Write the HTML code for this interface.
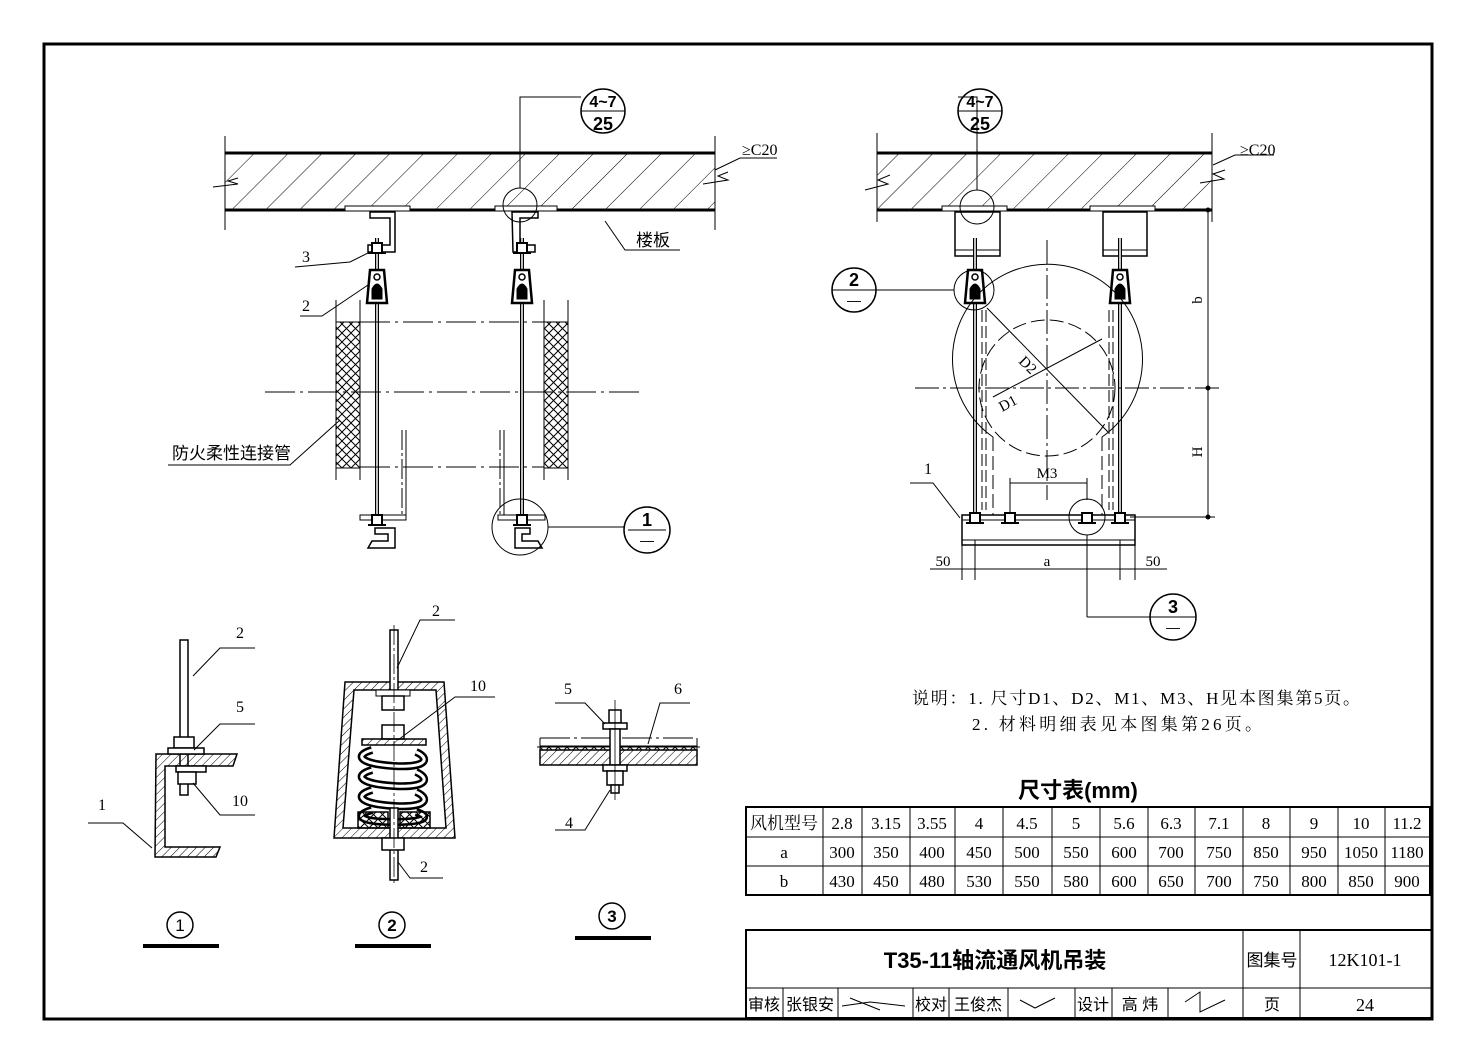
<!DOCTYPE html>
<html><head><meta charset="utf-8"><style>
html,body{margin:0;padding:0;background:#fff;}
svg{display:block;}
text{font-family:"Liberation Sans","Noto Sans CJK SC",sans-serif;fill:#000;}
.s{font-family:"Liberation Serif","Noto Serif CJK SC","Noto Sans CJK SC",serif;}
</style></head><body>
<svg width="1476" height="1062" viewBox="0 0 1476 1062" xmlns="http://www.w3.org/2000/svg">
<defs>
<pattern id="hatch" patternUnits="userSpaceOnUse" width="24" height="24" patternTransform="rotate(45)">
<line x1="0" y1="0" x2="0" y2="24" stroke="#000" stroke-width="1"/>
</pattern>
<pattern id="hs" patternUnits="userSpaceOnUse" width="6" height="6" patternTransform="rotate(45)">
<line x1="0" y1="0" x2="0" y2="6" stroke="#000" stroke-width="1"/>
</pattern>
<pattern id="xh" patternUnits="userSpaceOnUse" width="9" height="9">
<path d="M0 0L9 9M9 0L0 9" stroke="#000" stroke-width="1"/>
</pattern>
<g id="hanger">
<path d="M-7 -33 L7 -33 L10 0 L-10 0 Z" fill="#fff" stroke="#000" stroke-width="2.5"/>
<path d="M-5 -14 Q0 -24 5 -14 L5 -4 L-5 -4 Z" fill="#000"/>
<circle cx="0" cy="-26" r="3" fill="none" stroke="#000" stroke-width="1.5"/>
</g>
<g id="nut">
<rect x="-5" y="-5" width="10" height="10" fill="#fff" stroke="#000" stroke-width="2"/>
<line x1="-9" y1="5" x2="9" y2="5" stroke="#000" stroke-width="2"/>
</g>
<path id="coil" d="M372 752 C355 760 430 766 414 776 C400 784 360 786 374 796 C390 806 432 806 414 816 C400 824 360 826 376 834" fill="none"/>
</defs>
<rect x="0" y="0" width="1476" height="1062" fill="#fff"/>
<rect x="44" y="44" width="1388" height="975" fill="none" stroke="#000" stroke-width="3"/>

<!-- LEFT VIEW slab -->
<g stroke="#000" fill="none">
<rect x="225" y="153" width="490" height="57" fill="url(#hatch)" stroke="none"/>
<line x1="225" y1="153" x2="715" y2="153" stroke-width="3"/>
<line x1="225" y1="210" x2="715" y2="210" stroke-width="3"/>
<line x1="225" y1="136" x2="225" y2="230"/>
<line x1="715" y1="136" x2="715" y2="230"/>
<path d="M213 187 L238 184 L228 181 L238 178"/>
<path d="M703 184 L728 180 L718 176 L728 172" />
<rect x="345" y="206" width="65" height="5" fill="#fff"/>
<rect x="495" y="206" width="62" height="5" fill="#fff"/>
<path d="M370 212 L395 212 L395 252 L368 252 L368 245 L390 245 L390 218 L370 218 Z" fill="#fff" stroke-width="1.5"/>
<path d="M512 212 L538 212 L538 218 L520 218 L520 245 L535 245 L535 252 L513 252 Z" fill="#fff" stroke-width="1.5"/>
<line x1="377" y1="238" x2="377" y2="525" stroke-width="4"/>
<line x1="377" y1="238" x2="377" y2="525" stroke="#fff" stroke-width="1.5"/>
<line x1="522" y1="238" x2="522" y2="525" stroke-width="4"/>
<line x1="522" y1="238" x2="522" y2="525" stroke="#fff" stroke-width="1.5"/>
<use href="#hanger" x="377" y="303"/>
<use href="#hanger" x="522" y="303"/>
<rect x="336" y="322" width="24" height="146" fill="url(#xh)"/>
<rect x="544" y="322" width="24" height="146" fill="url(#xh)"/>
<line x1="336" y1="300" x2="336" y2="480"/><line x1="360" y1="300" x2="360" y2="480"/>
<line x1="544" y1="300" x2="544" y2="480"/><line x1="568" y1="300" x2="568" y2="480"/>
<line x1="360" y1="322" x2="544" y2="322" stroke-dasharray="30 5 3 5"/>
<line x1="360" y1="467" x2="544" y2="467" stroke-dasharray="30 5 3 5"/>
<line x1="265" y1="392" x2="640" y2="392" stroke-dasharray="30 5 3 5"/>
<line x1="402" y1="430" x2="402" y2="520" stroke-dasharray="20 3 3 3"/><line x1="406" y1="430" x2="406" y2="520"/>
<line x1="500" y1="430" x2="500" y2="520" stroke-dasharray="20 3 3 3"/><line x1="504" y1="430" x2="504" y2="520"/>
<path d="M360 515 L406 515 L406 520 L360 520 Z" fill="#fff"/>
<path d="M375 528 L395 528 L395 548 L368 548 L372 541 L388 541 L388 534 L375 534 Z" fill="#fff" stroke-width="1.5"/>
<path d="M498 515 L545 515 L545 520 L498 520 Z" fill="#fff"/>
<path d="M515 528 L530 528 L530 534 L522 534 L522 541 L538 541 L542 548 L515 548 Z" fill="#fff" stroke-width="1.5"/>
<use href="#nut" x="377" y="520"/><use href="#nut" x="522" y="520"/>
<use href="#nut" x="377" y="248"/><use href="#nut" x="522" y="248"/>
<circle cx="603" cy="111" r="22" fill="#fff" stroke-width="1.5"/>
<line x1="581" y1="111" x2="625" y2="111"/>
<path d="M581 97 L520 97 L520 188"/>
<circle cx="520" cy="205" r="17"/>
<circle cx="520" cy="527" r="28"/>
<line x1="548" y1="527" x2="624" y2="527"/>
<circle cx="647" cy="530" r="23" stroke-width="1.5"/>
<line x1="628" y1="530" x2="666" y2="530"/>
<path d="M605 221 L625 250 L680 250"/>
<path d="M715 170 L740 158 L777 158"/>
<path d="M295 267 L350 262 L370 252"/>
<path d="M300 316 L322 316 L368 285"/>
<path d="M168 465 L290 465 L340 420"/>
</g>
<text x="603" y="107" font-size="16" text-anchor="middle" font-weight="bold">4~7</text>
<text x="603" y="130" font-size="18" text-anchor="middle" font-weight="bold">25</text>
<text x="647" y="526" font-size="18" text-anchor="middle" font-weight="bold">1</text>
<text x="647" y="545" font-size="14" text-anchor="middle">—</text>
<text x="636" y="246" font-size="17">楼板</text>
<text x="742" y="155" font-size="16" class="s">≥C20</text>
<text x="302" y="262" font-size="16" class="s">3</text>
<text x="302" y="311" font-size="16" class="s">2</text>
<text x="172" y="459" font-size="17">防火柔性连接管</text>

<!-- RIGHT VIEW -->
<g stroke="#000" fill="none">
<rect x="877" y="153" width="335" height="57" fill="url(#hatch)" stroke="none"/>
<line x1="877" y1="153" x2="1212" y2="153" stroke-width="3"/>
<line x1="877" y1="210" x2="1212" y2="210" stroke-width="3"/>
<line x1="877" y1="133" x2="877" y2="222"/>
<line x1="1212" y1="133" x2="1212" y2="222"/>
<path d="M865 190 L888 184 L878 180 L890 175"/>
<path d="M1200 183 L1224 179 L1213 174 L1225 170"/>
<rect x="942" y="206" width="65" height="5" fill="#fff"/>
<rect x="1090" y="206" width="65" height="5" fill="#fff"/>
<rect x="955" y="212" width="45" height="44" fill="#fff" stroke-width="1.5"/>
<line x1="955" y1="250" x2="1000" y2="250"/>
<rect x="1103" y="212" width="44" height="44" fill="#fff" stroke-width="1.5"/>
<line x1="1103" y1="250" x2="1147" y2="250"/>
<line x1="975" y1="238" x2="975" y2="528" stroke-width="4"/>
<line x1="975" y1="238" x2="975" y2="528" stroke="#fff" stroke-width="1.5"/>
<line x1="1120" y1="238" x2="1120" y2="528" stroke-width="4"/>
<line x1="1120" y1="238" x2="1120" y2="528" stroke="#fff" stroke-width="1.5"/>
<use href="#hanger" x="975" y="303"/>
<use href="#hanger" x="1120" y="303"/>
<line x1="982" y1="310" x2="982" y2="510" stroke-dasharray="12 4"/><line x1="986" y1="310" x2="986" y2="510" stroke-dasharray="12 4"/>
<line x1="1109" y1="310" x2="1109" y2="510" stroke-dasharray="12 4"/><line x1="1113" y1="310" x2="1113" y2="510" stroke-dasharray="12 4"/>
<path d="M993 437 A95 95 0 1 1 1102 437" />
<circle cx="1047" cy="388" r="68" stroke-dasharray="14 5"/>
<line x1="993" y1="437" x2="993" y2="515" stroke-dasharray="14 5"/>
<line x1="1102" y1="437" x2="1102" y2="515" stroke-dasharray="14 5"/>
<line x1="1047" y1="240" x2="1047" y2="500" stroke-dasharray="24 4 3 4"/>
<line x1="915" y1="388" x2="1220" y2="388" stroke-dasharray="24 4 3 4"/>
<line x1="987" y1="308" x2="1108" y2="432"/>
<line x1="993" y1="397" x2="1102" y2="339"/>
<rect x="962" y="515" width="173" height="30" fill="#fff" stroke-width="1.5"/>
<line x1="962" y1="520" x2="1135" y2="520"/><line x1="962" y1="540" x2="1135" y2="540"/>
<use href="#nut" x="975" y="518"/><use href="#nut" x="1120" y="518"/>
<use href="#nut" x="1010" y="518"/><use href="#nut" x="1087" y="518"/>
<circle cx="1087" cy="517" r="18"/>
<line x1="1087" y1="535" x2="1087" y2="617"/><line x1="1087" y1="617" x2="1150" y2="617"/>
<circle cx="1173" cy="617" r="23" stroke-width="1.5"/><line x1="1150" y1="617" x2="1196" y2="617"/>
<circle cx="974" cy="290" r="20"/>
<line x1="954" y1="290" x2="876" y2="290"/>
<circle cx="854" cy="290" r="22" stroke-width="1.5"/><line x1="832" y1="290" x2="876" y2="290"/>
<circle cx="980" cy="111" r="22" fill="#fff" stroke-width="1.5"/><line x1="958" y1="111" x2="1002" y2="111"/>
<path d="M958 97 L977 97 L977 190"/>
<circle cx="977" cy="207" r="17"/>
<path d="M1213 165 L1235 155 L1274 155"/>
<line x1="1208" y1="210" x2="1208" y2="517"/>
<line x1="1130" y1="517" x2="1215" y2="517"/>
<circle cx="1208" cy="210" r="2" fill="#000"/><circle cx="1208" cy="388" r="2" fill="#000"/><circle cx="1208" cy="517" r="2" fill="#000"/>
<line x1="930" y1="569" x2="1167" y2="569"/>
<line x1="962" y1="545" x2="962" y2="580"/><line x1="975" y1="540" x2="975" y2="580"/>
<line x1="1120" y1="540" x2="1120" y2="580"/><line x1="1135" y1="545" x2="1135" y2="580"/>
<line x1="1010" y1="483" x2="1087" y2="483"/>
<line x1="1010" y1="478" x2="1010" y2="512"/><line x1="1087" y1="478" x2="1087" y2="500"/>
<path d="M910 483 L933 483 L960 518"/>
</g>
<text x="980" y="107" font-size="16" text-anchor="middle" font-weight="bold">4~7</text>
<text x="980" y="130" font-size="18" text-anchor="middle" font-weight="bold">25</text>
<text x="854" y="286" font-size="18" text-anchor="middle" font-weight="bold">2</text>
<text x="854" y="305" font-size="14" text-anchor="middle">—</text>
<text x="1173" y="613" font-size="18" text-anchor="middle" font-weight="bold">3</text>
<text x="1173" y="632" font-size="14" text-anchor="middle">—</text>
<text x="1240" y="155" font-size="16" class="s">≥C20</text>
<text x="1047" y="478" font-size="15" text-anchor="middle" class="s">M3</text>
<text x="1047" y="566" font-size="15" text-anchor="middle" class="s">a</text>
<text x="943" y="566" font-size="15" text-anchor="middle" class="s">50</text>
<text x="1153" y="566" font-size="15" text-anchor="middle" class="s">50</text>
<text x="924" y="474" font-size="16" class="s">1</text>
<text transform="translate(1202,300) rotate(-90)" font-size="15" text-anchor="middle" class="s">b</text>
<text transform="translate(1202,452) rotate(-90)" font-size="15" text-anchor="middle" class="s">H</text>
<text transform="translate(1018,362) rotate(45)" font-size="15" class="s">D2</text>
<text transform="translate(1002,412) rotate(-28)" font-size="15" class="s">D1</text>

<!-- DETAIL 1 -->
<g stroke="#000" fill="none">
<rect x="180" y="640" width="8" height="155" fill="#fff" stroke-width="1.5"/>
<path d="M156 754 L237 754 L233 766 L165 766 L165 847 L220 847 L216 857 L155 857 Z" fill="url(#hs)" stroke-width="1.5"/>
<rect x="174" y="737" width="20" height="11" fill="#fff" stroke-width="1.5"/>
<rect x="168" y="748" width="36" height="6" fill="#fff" stroke-width="1.5"/>
<rect x="176" y="766" width="30" height="6" fill="#fff" stroke-width="1.5"/>
<rect x="178" y="772" width="18" height="12" fill="#fff" stroke-width="1.5"/>
<path d="M193 676 L220 648 L255 648"/>
<path d="M194 750 L220 724 L255 724"/>
<path d="M193 783 L220 815 L255 815"/>
<path d="M88 823 L123 823 L152 848"/>
</g>
<text x="236" y="638" font-size="16" class="s">2</text>
<text x="236" y="712" font-size="16" class="s">5</text>
<text x="232" y="806" font-size="16" class="s">10</text>
<text x="98" y="810" font-size="16" class="s">1</text>

<!-- DETAIL 2 -->
<g stroke="#000" fill="none">
<path d="M345 682 L444 682 L455 838 L334 838 Z" fill="url(#hs)" stroke-width="1.5"/>
<path d="M354 690 L436 690 L446 828 L343 828 Z" fill="#fff" stroke-width="1.5"/>
<rect x="390" y="630" width="8" height="60" fill="#fff" stroke-width="1.5"/>
<rect x="376" y="690" width="34" height="6" fill="#fff"/>
<rect x="382" y="696" width="22" height="14" fill="#fff" stroke-width="1.5"/>
<rect x="382" y="725" width="22" height="14" fill="#fff" stroke-width="1.5"/>
<rect x="362" y="739" width="64" height="6" fill="url(#hs)" stroke-width="1.5"/>
<path d="M372 750 C352 756 362 764 394 766 C428 768 430 758 416 752" stroke-width="8"/>
<path d="M372 750 C352 756 362 764 394 766 C428 768 430 758 416 752" stroke="#fff" stroke-width="3"/>
<path d="M372 770 C352 776 362 784 394 786 C428 788 430 778 416 772" stroke-width="8"/>
<path d="M372 770 C352 776 362 784 394 786 C428 788 430 778 416 772" stroke="#fff" stroke-width="3"/>
<path d="M372 790 C352 796 362 804 394 806 C428 808 430 798 416 792" stroke-width="8"/>
<path d="M372 790 C352 796 362 804 394 806 C428 808 430 798 416 792" stroke="#fff" stroke-width="3"/>
<path d="M372 810 C352 816 362 822 394 822 C428 822 430 816 416 812" stroke-width="8"/>
<path d="M372 810 C352 816 362 822 394 822 C428 822 430 816 416 812" stroke="#fff" stroke-width="3"/>
<rect x="358" y="812" width="30" height="16" fill="url(#xh)" stroke-width="1.5"/>
<rect x="400" y="812" width="30" height="16" fill="url(#xh)" stroke-width="1.5"/>
<rect x="390" y="808" width="8" height="72" fill="#fff" stroke-width="1.5"/>
<rect x="382" y="838" width="22" height="12" fill="#fff" stroke-width="1.5"/>
<line x1="394" y1="625" x2="394" y2="885" stroke-dasharray="20 3 3 3" stroke-width="0.8"/>
<path d="M397 668 L420 620 L455 620"/>
<path d="M398 740 L455 697 L495 697"/>
<path d="M398 862 L410 878 L443 878"/>
</g>
<text x="432" y="616" font-size="16" class="s">2</text>
<text x="470" y="691" font-size="16" class="s">10</text>
<text x="420" y="872" font-size="16" class="s">2</text>

<!-- DETAIL 3 -->
<g stroke="#000" fill="none">
<line x1="540" y1="738" x2="697" y2="738" stroke-dasharray="30 4 3 4"/>
<line x1="540" y1="738" x2="540" y2="765"/><line x1="697" y1="738" x2="697" y2="765"/>
<rect x="540" y="746" width="157" height="4" fill="url(#xh)"/>
<line x1="537" y1="747" x2="700" y2="747"/>
<rect x="540" y="750" width="157" height="15" fill="url(#hs)" stroke-width="1.5"/>
<rect x="609" y="710" width="12" height="13" fill="#fff" stroke-width="1.5"/>
<rect x="603" y="723" width="24" height="6" fill="#fff" stroke-width="1.5"/>
<rect x="610" y="729" width="10" height="36" fill="#fff" stroke-width="1.5"/>
<rect x="603" y="765" width="24" height="6" fill="#fff" stroke-width="1.5"/>
<rect x="607" y="771" width="16" height="14" fill="#fff" stroke-width="1.5"/>
<rect x="611" y="785" width="8" height="8" fill="#fff" stroke-width="1.5"/>
<line x1="615" y1="700" x2="615" y2="800" stroke-width="0.8"/>
<path d="M555 703 L585 703 L605 724"/>
<path d="M690 703 L660 703 L648 744"/>
<path d="M555 830 L585 830 L610 790"/>
</g>
<text x="564" y="694" font-size="16" class="s">5</text>
<text x="674" y="694" font-size="16" class="s">6</text>
<text x="565" y="828" font-size="16" class="s">4</text>

<g stroke="#000" fill="none" stroke-width="1.5">
<circle cx="180" cy="925" r="13"/><circle cx="392" cy="925" r="13"/><circle cx="612" cy="916" r="13"/>
</g>
<rect x="143" y="944" width="76" height="4" fill="#000"/>
<rect x="355" y="944" width="76" height="4" fill="#000"/>
<rect x="575" y="936" width="76" height="4" fill="#000"/>
<text x="180" y="931" font-size="17" text-anchor="middle">1</text>
<text x="392" y="931" font-size="17" text-anchor="middle" font-weight="bold">2</text>
<text x="612" y="922" font-size="17" text-anchor="middle" font-weight="bold">3</text>

<text x="912" y="704" font-size="17" class="s" textLength="448">说明：1. 尺寸D1、D2、M1、M3、H见本图集第5页。</text>
<text x="972" y="730" font-size="17" class="s" textLength="290">2. 材料明细表见本图集第26页。</text>

<text x="1078" y="798" font-size="22" text-anchor="middle" font-weight="bold">尺寸表(mm)</text>
<g stroke="#000" fill="none">
<rect x="746" y="807" width="684" height="88" stroke-width="2"/>
<line x1="746" y1="837" x2="1430" y2="837"/>
<line x1="746" y1="866" x2="1430" y2="866"/>
<line x1="823" y1="807" x2="823" y2="895"/><line x1="862" y1="807" x2="862" y2="895"/>
<line x1="910" y1="807" x2="910" y2="895"/><line x1="955" y1="807" x2="955" y2="895"/>
<line x1="1003" y1="807" x2="1003" y2="895"/><line x1="1052" y1="807" x2="1052" y2="895"/>
<line x1="1100" y1="807" x2="1100" y2="895"/><line x1="1148" y1="807" x2="1148" y2="895"/>
<line x1="1195" y1="807" x2="1195" y2="895"/><line x1="1243" y1="807" x2="1243" y2="895"/>
<line x1="1290" y1="807" x2="1290" y2="895"/><line x1="1338" y1="807" x2="1338" y2="895"/>
<line x1="1385" y1="807" x2="1385" y2="895"/>
</g>
<g font-size="17" text-anchor="middle" class="s">
<text x="784" y="829" class="s">风机型号</text>
<text x="842" y="829" class="s">2.8</text><text x="886" y="829" class="s">3.15</text><text x="932" y="829" class="s">3.55</text>
<text x="979" y="829" class="s">4</text><text x="1027" y="829" class="s">4.5</text><text x="1076" y="829" class="s">5</text>
<text x="1124" y="829" class="s">5.6</text><text x="1171" y="829" class="s">6.3</text><text x="1219" y="829" class="s">7.1</text>
<text x="1266" y="829" class="s">8</text><text x="1314" y="829" class="s">9</text><text x="1361" y="829" class="s">10</text><text x="1407" y="829" class="s">11.2</text>
<text x="784" y="858" class="s">a</text>
<text x="842" y="858" class="s">300</text><text x="886" y="858" class="s">350</text><text x="932" y="858" class="s">400</text>
<text x="979" y="858" class="s">450</text><text x="1027" y="858" class="s">500</text><text x="1076" y="858" class="s">550</text>
<text x="1124" y="858" class="s">600</text><text x="1171" y="858" class="s">700</text><text x="1219" y="858" class="s">750</text>
<text x="1266" y="858" class="s">850</text><text x="1314" y="858" class="s">950</text><text x="1361" y="858" class="s">1050</text><text x="1407" y="858" class="s">1180</text>
<text x="784" y="887" class="s">b</text>
<text x="842" y="887" class="s">430</text><text x="886" y="887" class="s">450</text><text x="932" y="887" class="s">480</text>
<text x="979" y="887" class="s">530</text><text x="1027" y="887" class="s">550</text><text x="1076" y="887" class="s">580</text>
<text x="1124" y="887" class="s">600</text><text x="1171" y="887" class="s">650</text><text x="1219" y="887" class="s">700</text>
<text x="1266" y="887" class="s">750</text><text x="1314" y="887" class="s">800</text><text x="1361" y="887" class="s">850</text><text x="1407" y="887" class="s">900</text>
</g>

<g stroke="#000" fill="none">
<rect x="746" y="930" width="686" height="88" stroke-width="2"/>
<line x1="746" y1="988" x2="1432" y2="988"/>
<line x1="1243" y1="930" x2="1243" y2="1018"/>
<line x1="1300" y1="930" x2="1300" y2="1018"/>
<line x1="783" y1="988" x2="783" y2="1018"/><line x1="838" y1="988" x2="838" y2="1018"/>
<line x1="913" y1="988" x2="913" y2="1018"/><line x1="949" y1="988" x2="949" y2="1018"/>
<line x1="1008" y1="988" x2="1008" y2="1018"/><line x1="1075" y1="988" x2="1075" y2="1018"/>
<line x1="1112" y1="988" x2="1112" y2="1018"/><line x1="1168" y1="988" x2="1168" y2="1018"/>
<path d="M842 1006 L870 1002 L905 1006 M850 998 L880 1010 M1020 1000 L1035 1008 L1055 998 M1185 1002 L1200 992 L1200 1012 L1225 1000"/>
</g>
<text x="995" y="968" font-size="22" text-anchor="middle" font-weight="bold">T35-11轴流通风机吊装</text>
<text x="1272" y="966" font-size="17" text-anchor="middle">图集号</text>
<text x="1365" y="966" font-size="18" text-anchor="middle" class="s">12K101-1</text>
<text x="764" y="1010" font-size="16" text-anchor="middle">审核</text>
<text x="810" y="1010" font-size="16" text-anchor="middle">张银安</text>
<text x="931" y="1010" font-size="16" text-anchor="middle">校对</text>
<text x="978" y="1010" font-size="16" text-anchor="middle">王俊杰</text>
<text x="1093" y="1010" font-size="16" text-anchor="middle">设计</text>
<text x="1140" y="1010" font-size="16" text-anchor="middle">高 炜</text>
<text x="1272" y="1010" font-size="16" text-anchor="middle">页</text>
<text x="1365" y="1011" font-size="18" text-anchor="middle" class="s">24</text>
</svg>
</body></html>
